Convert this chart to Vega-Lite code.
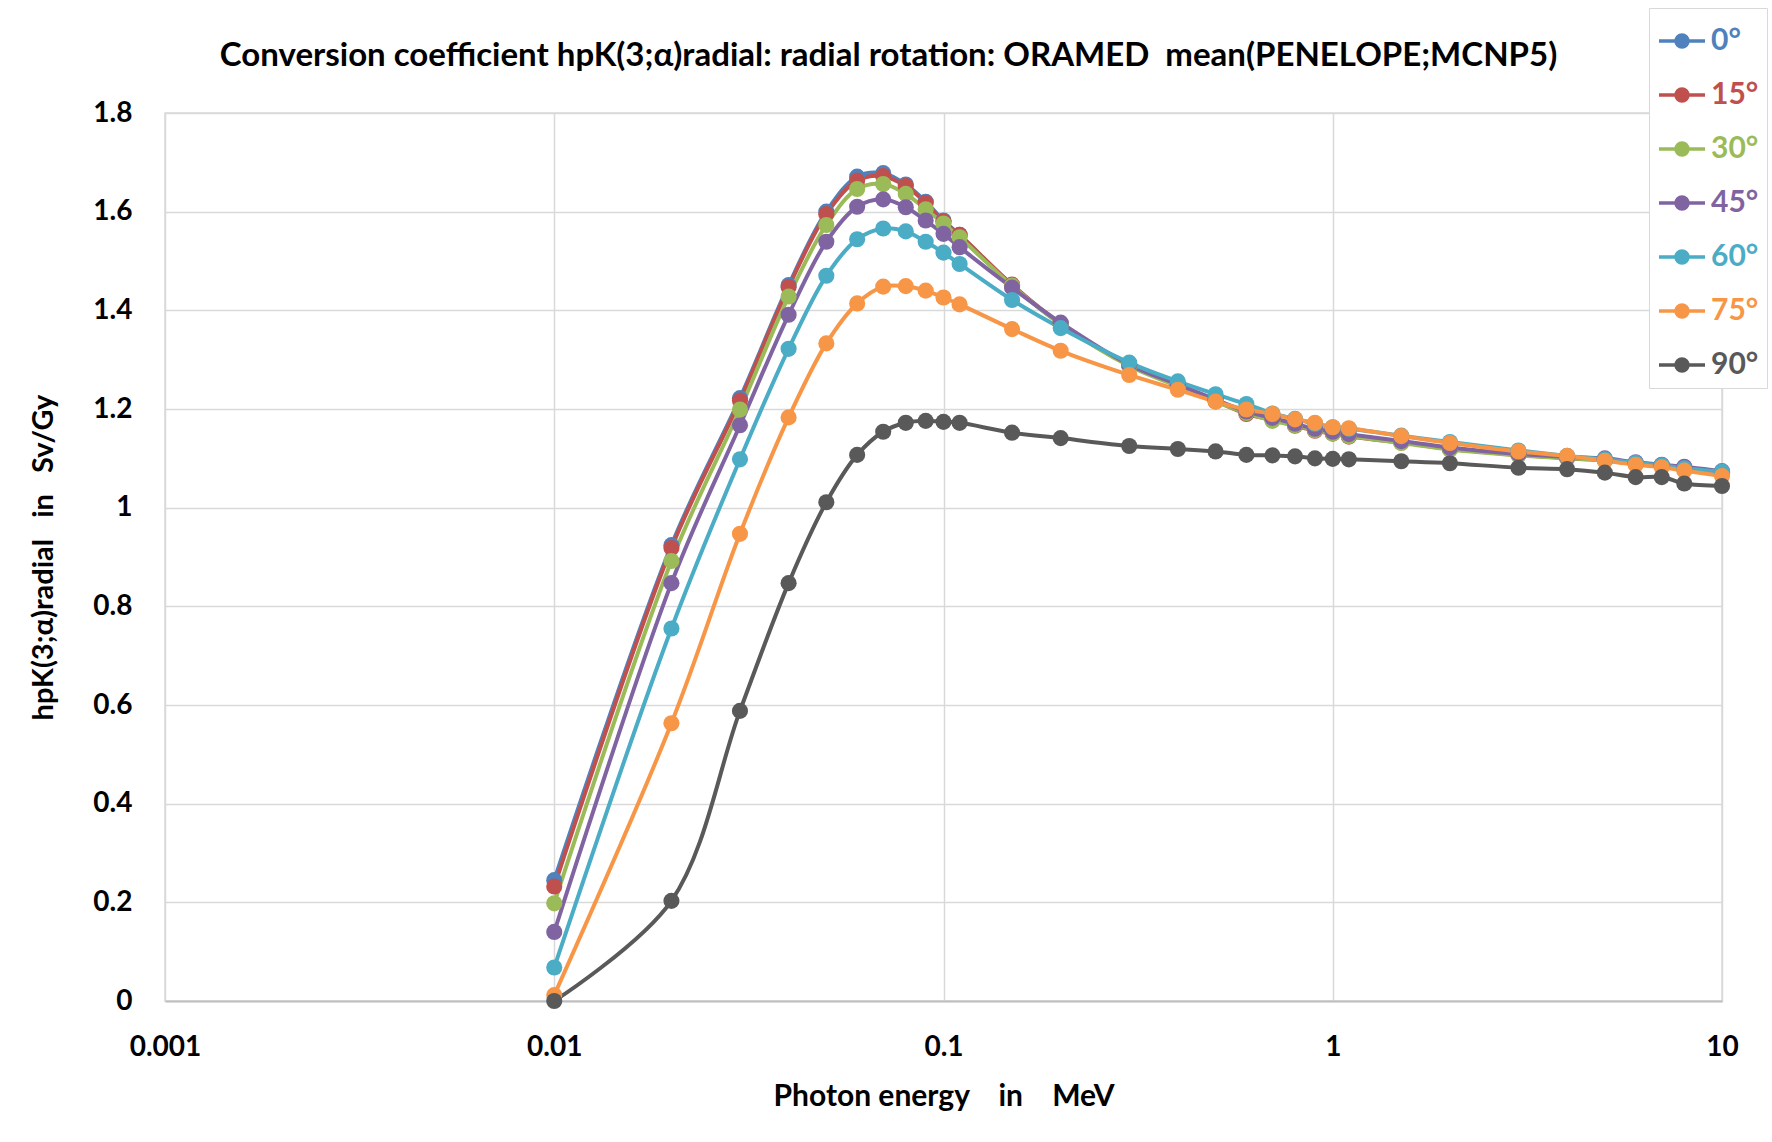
{
  "$schema": "https://vega.github.io/schema/vega-lite/v6.json",
  "autosize": {"type": "none"},
  "padding": {"left": 165, "top": 113, "right": 50, "bottom": 141},
  "width": 1557,
  "height": 888,
  "background": "white",
  "title": {
    "text": "Conversion coefficient hpK(3;α)radial: radial rotation: ORAMED\u00a0\u00a0mean(PENELOPE;MCNP5)",
    "font": "Lato",
    "fontSize": 33,
    "fontWeight": "bold",
    "color": "#000000",
    "anchor": "middle",
    "frame": "group",
    "dx": -55,
    "offset": -65
  },
  "data": {
    "values": [
      {"E": 0.01, "a": "0°", "h": 0.245}, {"E": 0.01, "a": "15°", "h": 0.232}, {"E": 0.01, "a": "30°", "h": 0.198}, {"E": 0.01, "a": "45°", "h": 0.140}, {"E": 0.01, "a": "60°", "h": 0.068}, {"E": 0.01, "a": "75°", "h": 0.012}, {"E": 0.01, "a": "90°", "h": 0.000},
      {"E": 0.02, "a": "0°", "h": 0.924}, {"E": 0.02, "a": "15°", "h": 0.918}, {"E": 0.02, "a": "30°", "h": 0.892}, {"E": 0.02, "a": "45°", "h": 0.847}, {"E": 0.02, "a": "60°", "h": 0.755}, {"E": 0.02, "a": "75°", "h": 0.563}, {"E": 0.02, "a": "90°", "h": 0.203},
      {"E": 0.03, "a": "0°", "h": 1.222}, {"E": 0.03, "a": "15°", "h": 1.217}, {"E": 0.03, "a": "30°", "h": 1.199}, {"E": 0.03, "a": "45°", "h": 1.167}, {"E": 0.03, "a": "60°", "h": 1.098}, {"E": 0.03, "a": "75°", "h": 0.947}, {"E": 0.03, "a": "90°", "h": 0.588},
      {"E": 0.04, "a": "0°", "h": 1.451}, {"E": 0.04, "a": "15°", "h": 1.447}, {"E": 0.04, "a": "30°", "h": 1.428}, {"E": 0.04, "a": "45°", "h": 1.391}, {"E": 0.04, "a": "60°", "h": 1.322}, {"E": 0.04, "a": "75°", "h": 1.183}, {"E": 0.04, "a": "90°", "h": 0.847},
      {"E": 0.05, "a": "0°", "h": 1.600}, {"E": 0.05, "a": "15°", "h": 1.595}, {"E": 0.05, "a": "30°", "h": 1.573}, {"E": 0.05, "a": "45°", "h": 1.539}, {"E": 0.05, "a": "60°", "h": 1.470}, {"E": 0.05, "a": "75°", "h": 1.333}, {"E": 0.05, "a": "90°", "h": 1.011},
      {"E": 0.06, "a": "0°", "h": 1.671}, {"E": 0.06, "a": "15°", "h": 1.663}, {"E": 0.06, "a": "30°", "h": 1.646}, {"E": 0.06, "a": "45°", "h": 1.610}, {"E": 0.06, "a": "60°", "h": 1.544}, {"E": 0.06, "a": "75°", "h": 1.414}, {"E": 0.06, "a": "90°", "h": 1.107},
      {"E": 0.07, "a": "0°", "h": 1.678}, {"E": 0.07, "a": "15°", "h": 1.672}, {"E": 0.07, "a": "30°", "h": 1.656}, {"E": 0.07, "a": "45°", "h": 1.625}, {"E": 0.07, "a": "60°", "h": 1.566}, {"E": 0.07, "a": "75°", "h": 1.448}, {"E": 0.07, "a": "90°", "h": 1.154},
      {"E": 0.08, "a": "0°", "h": 1.655}, {"E": 0.08, "a": "15°", "h": 1.652}, {"E": 0.08, "a": "30°", "h": 1.636}, {"E": 0.08, "a": "45°", "h": 1.609}, {"E": 0.08, "a": "60°", "h": 1.560}, {"E": 0.08, "a": "75°", "h": 1.449}, {"E": 0.08, "a": "90°", "h": 1.172},
      {"E": 0.09, "a": "0°", "h": 1.620}, {"E": 0.09, "a": "15°", "h": 1.618}, {"E": 0.09, "a": "30°", "h": 1.605}, {"E": 0.09, "a": "45°", "h": 1.582}, {"E": 0.09, "a": "60°", "h": 1.539}, {"E": 0.09, "a": "75°", "h": 1.440}, {"E": 0.09, "a": "90°", "h": 1.176},
      {"E": 0.1, "a": "0°", "h": 1.582}, {"E": 0.1, "a": "15°", "h": 1.580}, {"E": 0.1, "a": "30°", "h": 1.576}, {"E": 0.1, "a": "45°", "h": 1.555}, {"E": 0.1, "a": "60°", "h": 1.517}, {"E": 0.1, "a": "75°", "h": 1.426}, {"E": 0.1, "a": "90°", "h": 1.174},
      {"E": 0.11, "a": "0°", "h": 1.553}, {"E": 0.11, "a": "15°", "h": 1.553}, {"E": 0.11, "a": "30°", "h": 1.548}, {"E": 0.11, "a": "45°", "h": 1.528}, {"E": 0.11, "a": "60°", "h": 1.494}, {"E": 0.11, "a": "75°", "h": 1.412}, {"E": 0.11, "a": "90°", "h": 1.172},
      {"E": 0.15, "a": "0°", "h": 1.451}, {"E": 0.15, "a": "15°", "h": 1.452}, {"E": 0.15, "a": "30°", "h": 1.450}, {"E": 0.15, "a": "45°", "h": 1.446}, {"E": 0.15, "a": "60°", "h": 1.421}, {"E": 0.15, "a": "75°", "h": 1.362}, {"E": 0.15, "a": "90°", "h": 1.152},
      {"E": 0.2, "a": "0°", "h": 1.372}, {"E": 0.2, "a": "15°", "h": 1.373}, {"E": 0.2, "a": "30°", "h": 1.372}, {"E": 0.2, "a": "45°", "h": 1.375}, {"E": 0.2, "a": "60°", "h": 1.364}, {"E": 0.2, "a": "75°", "h": 1.318}, {"E": 0.2, "a": "90°", "h": 1.141},
      {"E": 0.3, "a": "0°", "h": 1.289}, {"E": 0.3, "a": "15°", "h": 1.289}, {"E": 0.3, "a": "30°", "h": 1.287}, {"E": 0.3, "a": "45°", "h": 1.290}, {"E": 0.3, "a": "60°", "h": 1.294}, {"E": 0.3, "a": "75°", "h": 1.269}, {"E": 0.3, "a": "90°", "h": 1.125},
      {"E": 0.4, "a": "0°", "h": 1.248}, {"E": 0.4, "a": "15°", "h": 1.247}, {"E": 0.4, "a": "30°", "h": 1.246}, {"E": 0.4, "a": "45°", "h": 1.250}, {"E": 0.4, "a": "60°", "h": 1.256}, {"E": 0.4, "a": "75°", "h": 1.239}, {"E": 0.4, "a": "90°", "h": 1.119},
      {"E": 0.5, "a": "0°", "h": 1.218}, {"E": 0.5, "a": "15°", "h": 1.216}, {"E": 0.5, "a": "30°", "h": 1.215}, {"E": 0.5, "a": "45°", "h": 1.219}, {"E": 0.5, "a": "60°", "h": 1.230}, {"E": 0.5, "a": "75°", "h": 1.215}, {"E": 0.5, "a": "90°", "h": 1.114},
      {"E": 0.6, "a": "0°", "h": 1.193}, {"E": 0.6, "a": "15°", "h": 1.190}, {"E": 0.6, "a": "30°", "h": 1.192}, {"E": 0.6, "a": "45°", "h": 1.195}, {"E": 0.6, "a": "60°", "h": 1.210}, {"E": 0.6, "a": "75°", "h": 1.199}, {"E": 0.6, "a": "90°", "h": 1.107},
      {"E": 0.7, "a": "0°", "h": 1.180}, {"E": 0.7, "a": "15°", "h": 1.178}, {"E": 0.7, "a": "30°", "h": 1.176}, {"E": 0.7, "a": "45°", "h": 1.182}, {"E": 0.7, "a": "60°", "h": 1.191}, {"E": 0.7, "a": "75°", "h": 1.190}, {"E": 0.7, "a": "90°", "h": 1.106},
      {"E": 0.8, "a": "0°", "h": 1.168}, {"E": 0.8, "a": "15°", "h": 1.166}, {"E": 0.8, "a": "30°", "h": 1.167}, {"E": 0.8, "a": "45°", "h": 1.170}, {"E": 0.8, "a": "60°", "h": 1.180}, {"E": 0.8, "a": "75°", "h": 1.179}, {"E": 0.8, "a": "90°", "h": 1.104},
      {"E": 0.9, "a": "0°", "h": 1.158}, {"E": 0.9, "a": "15°", "h": 1.156}, {"E": 0.9, "a": "30°", "h": 1.157}, {"E": 0.9, "a": "45°", "h": 1.160}, {"E": 0.9, "a": "60°", "h": 1.170}, {"E": 0.9, "a": "75°", "h": 1.172}, {"E": 0.9, "a": "90°", "h": 1.100},
      {"E": 1.0, "a": "0°", "h": 1.152}, {"E": 1.0, "a": "15°", "h": 1.150}, {"E": 1.0, "a": "30°", "h": 1.150}, {"E": 1.0, "a": "45°", "h": 1.154}, {"E": 1.0, "a": "60°", "h": 1.163}, {"E": 1.0, "a": "75°", "h": 1.163}, {"E": 1.0, "a": "90°", "h": 1.099},
      {"E": 1.1, "a": "0°", "h": 1.146}, {"E": 1.1, "a": "15°", "h": 1.144}, {"E": 1.1, "a": "30°", "h": 1.145}, {"E": 1.1, "a": "45°", "h": 1.149}, {"E": 1.1, "a": "60°", "h": 1.160}, {"E": 1.1, "a": "75°", "h": 1.161}, {"E": 1.1, "a": "90°", "h": 1.098},
      {"E": 1.5, "a": "0°", "h": 1.133}, {"E": 1.5, "a": "15°", "h": 1.132}, {"E": 1.5, "a": "30°", "h": 1.131}, {"E": 1.5, "a": "45°", "h": 1.135}, {"E": 1.5, "a": "60°", "h": 1.146}, {"E": 1.5, "a": "75°", "h": 1.145}, {"E": 1.5, "a": "90°", "h": 1.094},
      {"E": 2, "a": "0°", "h": 1.120}, {"E": 2, "a": "15°", "h": 1.119}, {"E": 2, "a": "30°", "h": 1.118}, {"E": 2, "a": "45°", "h": 1.122}, {"E": 2, "a": "60°", "h": 1.133}, {"E": 2, "a": "75°", "h": 1.131}, {"E": 2, "a": "90°", "h": 1.090},
      {"E": 3, "a": "0°", "h": 1.108}, {"E": 3, "a": "15°", "h": 1.107}, {"E": 3, "a": "30°", "h": 1.106}, {"E": 3, "a": "45°", "h": 1.109}, {"E": 3, "a": "60°", "h": 1.116}, {"E": 3, "a": "75°", "h": 1.114}, {"E": 3, "a": "90°", "h": 1.081},
      {"E": 4, "a": "0°", "h": 1.101}, {"E": 4, "a": "15°", "h": 1.100}, {"E": 4, "a": "30°", "h": 1.100}, {"E": 4, "a": "45°", "h": 1.103}, {"E": 4, "a": "60°", "h": 1.105}, {"E": 4, "a": "75°", "h": 1.105}, {"E": 4, "a": "90°", "h": 1.078},
      {"E": 5, "a": "0°", "h": 1.097}, {"E": 5, "a": "15°", "h": 1.096}, {"E": 5, "a": "30°", "h": 1.096}, {"E": 5, "a": "45°", "h": 1.100}, {"E": 5, "a": "60°", "h": 1.098}, {"E": 5, "a": "75°", "h": 1.095}, {"E": 5, "a": "90°", "h": 1.071},
      {"E": 6, "a": "0°", "h": 1.090}, {"E": 6, "a": "15°", "h": 1.089}, {"E": 6, "a": "30°", "h": 1.089}, {"E": 6, "a": "45°", "h": 1.092}, {"E": 6, "a": "60°", "h": 1.091}, {"E": 6, "a": "75°", "h": 1.087}, {"E": 6, "a": "90°", "h": 1.062},
      {"E": 7, "a": "0°", "h": 1.086}, {"E": 7, "a": "15°", "h": 1.085}, {"E": 7, "a": "30°", "h": 1.085}, {"E": 7, "a": "45°", "h": 1.087}, {"E": 7, "a": "60°", "h": 1.086}, {"E": 7, "a": "75°", "h": 1.082}, {"E": 7, "a": "90°", "h": 1.062},
      {"E": 8, "a": "0°", "h": 1.081}, {"E": 8, "a": "15°", "h": 1.080}, {"E": 8, "a": "30°", "h": 1.080}, {"E": 8, "a": "45°", "h": 1.083}, {"E": 8, "a": "60°", "h": 1.080}, {"E": 8, "a": "75°", "h": 1.075}, {"E": 8, "a": "90°", "h": 1.049},
      {"E": 10, "a": "0°", "h": 1.072}, {"E": 10, "a": "15°", "h": 1.071}, {"E": 10, "a": "30°", "h": 1.070}, {"E": 10, "a": "45°", "h": 1.074}, {"E": 10, "a": "60°", "h": 1.073}, {"E": 10, "a": "75°", "h": 1.064}, {"E": 10, "a": "90°", "h": 1.044}
    ]
  },
  "mark": {
    "type": "line",
    "interpolate": "catmull-rom",
    "strokeWidth": 4,
    "point": {"filled": true, "size": 260, "opacity": 1}
  },
  "encoding": {
    "x": {
      "field": "E",
      "type": "quantitative",
      "scale": {"type": "log", "domain": [0.001, 10], "nice": false},
      "axis": {
        "title": "Photon energy\u00a0\u00a0\u00a0 in\u00a0\u00a0\u00a0 MeV",
        "values": [0.001, 0.01, 0.1, 1, 10],
        "format": "~g",
        "grid": true,
        "gridColor": "#D9D9D9",
        "gridWidth": 1.5,
        "ticks": false,
        "domain": true,
        "domainColor": "#BFBFBF",
        "domainWidth": 2,
        "labelFont": "Lato",
        "labelFontSize": 28,
        "labelFontWeight": "bold",
        "labelColor": "#000000",
        "labelPadding": 32,
        "labelFlush": false,
        "titleFont": "Lato",
        "titleFontSize": 30,
        "titleFontWeight": "bold",
        "titleColor": "#000000",
        "titlePadding": 20
      }
    },
    "y": {
      "field": "h",
      "type": "quantitative",
      "scale": {"domain": [0, 1.8], "nice": false, "zero": true},
      "axis": {
        "title": "hpK(3;α)radial\u00a0\u00a0 in\u00a0\u00a0 Sv/Gy",
        "values": [0, 0.2, 0.4, 0.6, 0.8, 1, 1.2, 1.4, 1.6, 1.8],
        "format": "~g",
        "grid": true,
        "gridColor": "#D9D9D9",
        "gridWidth": 1.5,
        "ticks": false,
        "domain": false,
        "labelFont": "Lato",
        "labelFontSize": 28,
        "labelFontWeight": "bold",
        "labelColor": "#000000",
        "labelPadding": 33,
        "titleFont": "Lato",
        "titleFontSize": 29,
        "titleFontWeight": "bold",
        "titleColor": "#000000",
        "titlePadding": 34
      }
    },
    "color": {
      "field": "a",
      "type": "nominal",
      "sort": ["0°", "15°", "30°", "45°", "60°", "75°", "90°"],
      "scale": {
        "domain": ["0°", "15°", "30°", "45°", "60°", "75°", "90°"],
        "range": ["#4F81BD", "#C0504D", "#9BBB59", "#8064A2", "#4BACC6", "#F79646", "#595959"]
      },
      "legend": {
        "title": null,
        "orient": "none",
        "legendX": 1484,
        "legendY": -105,
        "direction": "vertical",
        "padding": 8,
        "fillColor": "white",
        "strokeColor": "#D9D9D9",
        "symbolType": "M-1,0H1M-0.26,0A0.26,0.26 0 1,0 0.26,0A0.26,0.26 0 1,0 -0.26,0Z",
        "symbolSize": 2116,
        "symbolStrokeWidth": 3.5,
        "rowPadding": 14,
        "labelOffset": 4,
        "labelFont": "Lato",
        "labelFontSize": 30,
        "labelFontWeight": "bold",
        "labelLimit": 200,
        "encode": {
          "symbols": {
            "update": {
              "fill": {"scale": "color", "field": "value"},
              "stroke": {"scale": "color", "field": "value"},
              "fillOpacity": {"value": 1}
            }
          },
          "labels": {
            "update": {
              "fill": {"scale": "color", "field": "value"}
            }
          }
        }
      }
    }
  },
  "config": {
    "font": "Lato",
    "view": {"stroke": "#D9D9D9", "strokeWidth": 1.5}
  }
}
